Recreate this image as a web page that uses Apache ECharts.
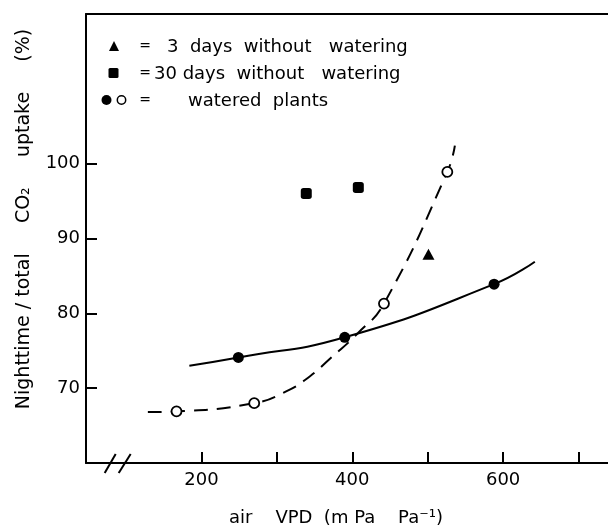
<!DOCTYPE html>
<html>
<head>
<meta charset="utf-8">
<script src="https://cdn.jsdelivr.net/npm/echarts@6/dist/echarts.min.js"></script>
<style>
  html, body { margin: 0; padding: 0; background: #fff; }
  #chart { width: 608px; height: 527px; }
</style>
</head>
<body>
<div id="chart"></div>
<script>
// axis ticks and labels
const xTicks = [200, 300, 400, 500, 600, 700]
const xLabels = [200, 400, 600]
const yTicks = [70, 80, 90, 100]

// measured points (air VPD, % nighttime uptake)
const filledVpd = [249, 390, 588]
const filledUptake = [74.1, 76.8, 83.9]
const openVpd = [167, 270, 442, 526]
const openUptake = [66.9, 68.0, 81.3, 98.9]
const dry30Vpd = [339, 408]
const dry30Uptake = [96.0, 96.8]
const dry3Vpd = [501]
const dry3Uptake = [87.9]

// hand-drawn fit curves
const solidCurveVpd = [184, 249, 390, 588, 642]
const solidCurveUptake = [73.0, 74.1, 76.8, 83.9, 86.9]
const dashedCurveVpd = [129, 167, 270, 313, 344, 370, 408, 442, 526, 536]
const dashedCurveUptake = [66.8, 66.9, 68.0, 69.6, 71.6, 73.9, 77.4, 81.3, 98.9, 102.4]

const FONT = 'DejaVu Sans'
const INK = '#000'
const zip = (xs, ys) => xs.map((x, i) => [x, ys[i]])

const chart = echarts.init(document.getElementById('chart'))

chart.setOption({
  animation: false,
  backgroundColor: '#fff',
  grid: { left: 86, right: 0, top: 14, bottom: 64 },
  xAxis: [
    {
      type: 'value',
      min: 47,
      max: 739,
      splitLine: { show: false },
      axisLine: { lineStyle: { color: INK, width: 2 } },
      axisTick: { inside: true, length: 11, customValues: xTicks, lineStyle: { color: INK, width: 2 } },
      axisLabel: { customValues: xLabels, margin: 8, color: INK, fontFamily: FONT, fontSize: 18 },
    },
    {
      type: 'value',
      position: 'top',
      min: 47,
      max: 739,
      splitLine: { show: false },
      axisLine: { lineStyle: { color: INK, width: 2 } },
      axisTick: { show: false },
      axisLabel: { show: false },
    },
  ],
  yAxis: {
    type: 'value',
    min: 60,
    max: 120,
    interval: 10,
    splitLine: { show: false },
    axisLine: { show: true, lineStyle: { color: INK, width: 2 } },
    axisTick: { show: true, inside: true, length: 11, customValues: yTicks, lineStyle: { color: INK, width: 2 } },
    axisLabel: { customValues: yTicks, margin: 6, color: INK, fontFamily: FONT, fontSize: 18 },
  },
  series: [
    {
      type: 'line',
      data: zip(solidCurveVpd, solidCurveUptake),
      smooth: 0.5,
      showSymbol: false,
      silent: true,
      lineStyle: { color: INK, width: 2 },
      z: 2,
    },
    {
      type: 'line',
      data: zip(dashedCurveVpd, dashedCurveUptake),
      smooth: 0.5,
      showSymbol: false,
      silent: true,
      lineStyle: { color: INK, width: 2, type: [14, 9] },
      z: 2,
    },
    {
      type: 'scatter',
      data: zip(filledVpd, filledUptake),
      symbol: 'circle',
      symbolSize: 11,
      itemStyle: { color: INK, opacity: 1 },
      z: 3,
    },
    {
      type: 'scatter',
      data: zip(openVpd, openUptake),
      symbol: 'circle',
      symbolSize: 10,
      itemStyle: { color: '#fff', borderColor: INK, borderWidth: 1.8, opacity: 1 },
      z: 3,
    },
    {
      type: 'scatter',
      data: zip(dry30Vpd, dry30Uptake),
      symbol: 'roundRect',
      symbolSize: 11,
      itemStyle: { color: INK, opacity: 1 },
      z: 3,
    },
    {
      type: 'scatter',
      data: zip(dry3Vpd, dry3Uptake),
      symbol: 'triangle',
      symbolSize: [12, 11],
      itemStyle: { color: INK, opacity: 1 },
      z: 3,
    },
  ],
})

// axis break "//" on the x axis, plus legend and axis titles
const bx = chart.convertToPixel({ xAxisIndex: 0 }, 89)
const by = chart.convertToPixel({ yAxisIndex: 0 }, 60)
const slash = (x1, y1, x2, y2) => ({
  type: 'line',
  shape: { x1, y1, x2, y2 },
  style: { stroke: INK, lineWidth: 2 },
  z: 10,
})
const txt = (text, x, y, size, align) => ({
  type: 'text',
  x, y,
  style: { text, fill: INK, font: size + 'px "' + FONT + '"', textAlign: align || 'left', textVerticalAlign: 'middle' },
  z: 10,
})

chart.setOption({
  graphic: [
    slash(bx - 13, by + 10, bx - 2, by - 9),
    slash(bx + 1, by + 10, bx + 13, by - 9),
    // legend
    { type: 'polygon', shape: { points: [[114, 41], [109, 51], [119, 51]] }, style: { fill: INK }, z: 10 },
    txt('=', 145, 46, 14, 'center'),
    txt('3  days  without   watering', 167, 47, 18),
    { type: 'rect', shape: { x: 108.5, y: 68, width: 10, height: 10, r: 1.5 }, style: { fill: INK }, z: 10 },
    txt('=', 145, 73, 14, 'center'),
    txt('30 days  without   watering', 154, 74, 18),
    { type: 'circle', shape: { cx: 106.5, cy: 100, r: 5 }, style: { fill: INK }, z: 10 },
    { type: 'circle', shape: { cx: 121.5, cy: 100, r: 4.2 }, style: { fill: '#fff', stroke: INK, lineWidth: 1.5 }, z: 10 },
    txt('=', 145, 100, 14, 'center'),
    txt('watered  plants', 188, 101, 18),
    // axis titles
    txt('air    VPD  (m Pa    Pa\u207B\u00B9)', 336, 518, 18, 'center'),
    {
      type: 'text',
      x: 24, y: 219,
      rotation: Math.PI / 2,
      style: {
        text: 'Nighttime / total     CO\u2082     uptake     (%)',
        fill: INK, font: '19px "' + FONT + '"', textAlign: 'center', textVerticalAlign: 'middle',
      },
      z: 10,
    },
  ],
})
</script>
</body>
</html>
